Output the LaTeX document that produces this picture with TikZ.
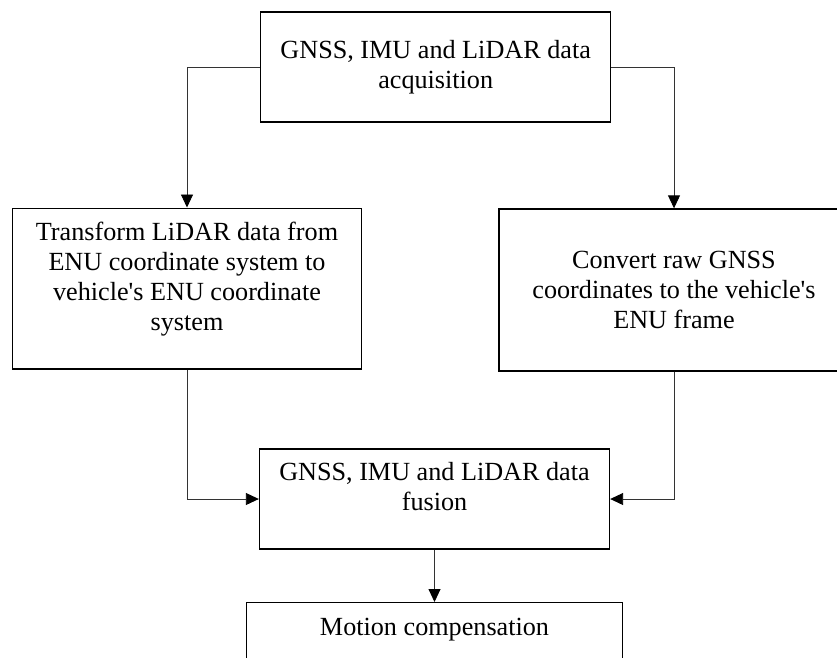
\documentclass[tikz,border=0pt]{standalone}
\usepackage{fontspec}
\setmainfont{Liberation Serif}
\usetikzlibrary{arrows.meta}
\tikzset{>={Triangle[length=2.6mm,width=2.4mm,color=black]},
	block/.style={draw=black,line width=0.8pt,align=center,inner sep=2pt,
		font=\fontsize{14.9}{17.1}\selectfont},
	link/.style={->,line width=0.5pt,draw=black!80}}

\begin{document}
\begin{tikzpicture}[x=0.02cm,y=-0.02cm]
	\useasboundingbox (0,0) rectangle (837,657);
	\node (acq) at (435.7,67) [block,minimum width=7cm,minimum height=2.2cm] {GNSS, IMU and LiDAR data\\acquisition};
	\node (lidar) at (187,288.7) [block,minimum width=6.98cm,minimum height=3.22cm] {Transform LiDAR data from\\ENU coordinate system to\\vehicle\textquotesingle s ENU coordinate\\system\rule[-0.5cm]{0pt}{0pt}};
	\node (gnss) at (674,290) [block,minimum width=7cm,minimum height=3.24cm] {Convert raw GNSS\\coordinates to the vehicle\textquotesingle s\\ENU frame};
	\node (fusion) at (434.5,499) [block,minimum width=7cm,minimum height=2cm] {GNSS, IMU and LiDAR data\\fusion\rule[-0.5cm]{0pt}{0pt}};
	\node (motion) at (434.5,602) [block,anchor=north,minimum width=7.52cm,inner ysep=0pt,text height=0.66cm,text depth=2cm] {Motion compensation};
	\draw [link] (acq.west) -| (lidar.north);
	\draw [link] (acq.east) -| (gnss.north);
	\draw [link] (lidar.south) |- (fusion.west);
	\draw [link] (gnss.south) |- (fusion.east);
	\draw [link] (fusion.south) -- (motion.north);
\end{tikzpicture}
\end{document}
